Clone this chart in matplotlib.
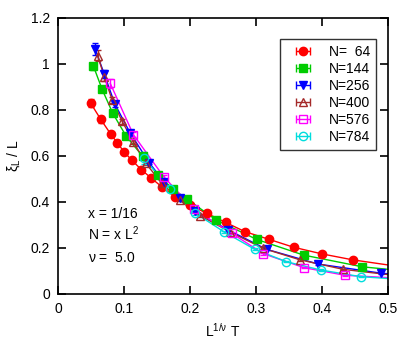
import matplotlib
matplotlib.use("Agg")
import matplotlib.pyplot as plt

plt.rcParams["font.family"] = ["Liberation Sans", "DejaVu Sans"]
plt.rcParams["mathtext.fontset"] = "custom"
plt.rcParams["mathtext.rm"] = "Liberation Sans"
plt.rcParams["mathtext.it"] = "Liberation Sans"

# data: x = L^(1/nu) T, y = xi_L / L
x64 = [0.0495, 0.0647, 0.080, 0.0895, 0.1005, 0.112, 0.126, 0.141, 0.158, 0.177, 0.200, 0.225, 0.254, 0.283, 0.319, 0.357, 0.400, 0.447]
y64 = [0.828, 0.758, 0.693, 0.657, 0.615, 0.580, 0.540, 0.503, 0.463, 0.422, 0.385, 0.350, 0.310, 0.270, 0.237, 0.202, 0.173, 0.147]
e64 = [0.018, 0.014, 0.012, 0.010, 0.008, 0.007, 0.006, 0.006, 0.005, 0.005, 0.005, 0.004, 0.004, 0.004, 0.003, 0.003, 0.003, 0.003]

x144 = [0.0535, 0.0667, 0.083, 0.103, 0.128, 0.152, 0.174, 0.196, 0.240, 0.301, 0.372, 0.461]
y144 = [0.990, 0.889, 0.784, 0.686, 0.598, 0.515, 0.455, 0.410, 0.320, 0.236, 0.168, 0.117]
e144 = [0.015, 0.012, 0.010, 0.008, 0.007, 0.006, 0.005, 0.005, 0.004, 0.004, 0.003, 0.003]

x256 = [0.056, 0.070, 0.086, 0.109, 0.138, 0.161, 0.184, 0.207, 0.258, 0.316, 0.394, 0.490]
y256 = [1.065, 0.955, 0.825, 0.700, 0.570, 0.485, 0.415, 0.360, 0.277, 0.193, 0.129, 0.089]
e256 = [0.025, 0.018, 0.012, 0.010, 0.008, 0.006, 0.005, 0.005, 0.004, 0.004, 0.003, 0.003]

x400 = [0.060, 0.070, 0.082, 0.097, 0.114, 0.133, 0.157, 0.184, 0.215, 0.261, 0.311, 0.367, 0.432]
y400 = [1.035, 0.944, 0.842, 0.750, 0.661, 0.567, 0.480, 0.407, 0.340, 0.268, 0.197, 0.147, 0.106]
e400 = [0.025, 0.018, 0.014, 0.012, 0.010, 0.008, 0.006, 0.005, 0.005, 0.004, 0.004, 0.003, 0.003]

x576 = [0.079, 0.114, 0.160, 0.206, 0.263, 0.311, 0.373, 0.435]
y576 = [0.915, 0.692, 0.509, 0.367, 0.263, 0.174, 0.113, 0.080]
e576 = [0.020, 0.012, 0.008, 0.006, 0.005, 0.004, 0.003, 0.003]

x784 = [0.130, 0.170, 0.208, 0.252, 0.298, 0.346, 0.398, 0.459]
y784 = [0.590, 0.454, 0.350, 0.268, 0.193, 0.139, 0.103, 0.074]
e784 = [0.025, 0.010, 0.007, 0.005, 0.004, 0.003, 0.003, 0.003]

# where the fitted curves leave the frame at x = 0.5
x_end = 0.5
y_end = [0.125, 0.106, 0.087, 0.083, 0.070, 0.066]

labels = ["N=  64", "N=144", "N=256", "N=400", "N=576", "N=784"]
colors = ["#ff0000", "#00cc00", "#0000ff", "#a52a2a", "#ff00ff", "#00dddd"]
markers = ["o", "s", "v", "^", "s", "o"]
filled = [True, True, True, False, False, False]

xs = [x64, x144, x256, x400, x576, x784]
ys = [y64, y144, y256, y400, y576, y784]
es = [e64, e144, e256, e400, e576, e784]

fig = plt.figure(figsize=(4.15, 3.56), dpi=100)
ax = fig.add_axes([0.14, 0.175, 0.795, 0.775])

handles = []
for i in range(6):
    c = colors[i]
    mfc = c if filled[i] else "none"
    ax.plot(xs[i] + [x_end], ys[i] + [y_end[i]], color=c, lw=1.0, zorder=2)
    ax.errorbar(xs[i], ys[i], yerr=es[i], fmt=markers[i], color=c, ms=6,
                mfc=mfc, mec=c, mew=1.0,
                elinewidth=1.0, capsize=2.5, capthick=1.0, zorder=3)
    # legend key in gnuplot style: horizontal bar with end caps
    h = ax.errorbar([float("nan")], [float("nan")], xerr=[1.0], fmt=markers[i],
                    color=c, ms=6, mfc=mfc, mec=c, mew=1.0,
                    elinewidth=1.0, capsize=3, capthick=1.0)
    handles.append(h)

ax.set_xlim(0, 0.5)
ax.set_ylim(0, 1.2)
ax.set_xticks([0, 0.1, 0.2, 0.3, 0.4, 0.5])
ax.set_xticklabels(["0", "0.1", "0.2", "0.3", "0.4", "0.5"])
ax.set_yticks([0, 0.2, 0.4, 0.6, 0.8, 1.0, 1.2])
ax.set_yticklabels(["0", "0.2", "0.4", "0.6", "0.8", "1", "1.2"])
ax.tick_params(direction="in", top=True, right=True, length=6, width=1.2,
               labelsize=10, pad=6)
for s in ax.spines.values():
    s.set_linewidth(1.2)

ax.set_xlabel(r"L$^{1/\nu}$ T", fontsize=10, labelpad=4)
ax.set_ylabel(r"$\xi_L$ / L", fontsize=10, labelpad=6)

ax.text(0.045, 0.33, "x = 1/16", fontsize=10)
ax.text(0.045, 0.235, r"N = x L$^2$", fontsize=10)
ax.text(0.045, 0.14, r"$\nu$ =  5.0", fontsize=10)

leg = ax.legend(handles, labels, loc="upper right",
                bbox_to_anchor=(0.9636, 0.922), fontsize=10,
                frameon=True, fancybox=False, edgecolor="black",
                borderpad=0.4, labelspacing=0.22, handlelength=2.4,
                handletextpad=0.7, borderaxespad=0)
leg.get_frame().set_linewidth(1.0)

fig.savefig("out.png", dpi=100)
